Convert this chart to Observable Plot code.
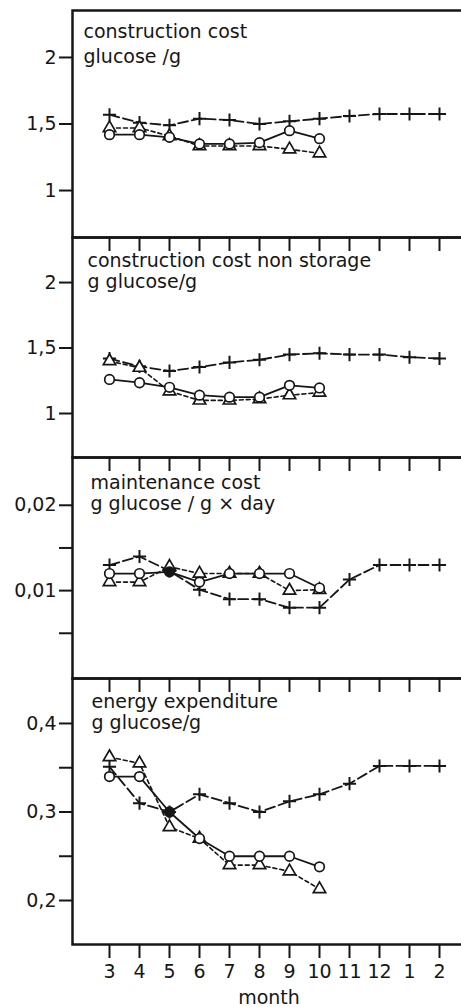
<!DOCTYPE html>
<html><head><meta charset="utf-8">
<script src="https://cdn.jsdelivr.net/npm/d3@7"></script>
<script src="https://cdn.jsdelivr.net/npm/@observablehq/plot@0.6"></script>
<style>
html,body{margin:0;padding:0;background:#fff;}
#chart{position:relative;width:461px;height:1007px;overflow:hidden;background:#fff;}
#chart svg{position:absolute;left:0;background:transparent !important;overflow:visible;}
</style></head><body><div id="chart"></div>
<script>
const months = ["3","4","5","6","7","8","9","10","11","12","1","2"];

// Panel 1: construction cost
const ccPlus     = [1.57, 1.51, 1.49, 1.54, 1.53, 1.50, 1.52, 1.54, 1.56, 1.575, 1.575, 1.575];
const ccCircle   = [1.42, 1.42, 1.40, 1.35, 1.35, 1.36, 1.45, 1.39];
const ccTriangle = [1.47, 1.47, 1.41, 1.335, 1.335, 1.335, 1.31, 1.28];

// Panel 2: construction cost non storage
const nsPlus     = [1.42, 1.36, 1.325, 1.355, 1.39, 1.41, 1.45, 1.46, 1.45, 1.45, 1.43, 1.42];
const nsCircle   = [1.26, 1.235, 1.20, 1.14, 1.125, 1.125, 1.215, 1.195];
const nsTriangle = [1.40, 1.35, 1.17, 1.10, 1.10, 1.11, 1.14, 1.16];

// Panel 3: maintenance cost
const mcPlus     = [0.013, 0.014, 0.0123, 0.0101, 0.009, 0.009, 0.008, 0.008, 0.0113, 0.013, 0.013, 0.013];
const mcCircle   = [0.012, 0.012, 0.0122, 0.011, 0.012, 0.012, 0.012, 0.0103];
const mcTriangle = [0.011, 0.011, 0.0128, 0.012, 0.012, 0.012, 0.010, 0.0101];

// Panel 4: energy expenditure
const eePlus     = [0.351, 0.31, 0.30, 0.32, 0.31, 0.30, 0.312, 0.32, 0.332, 0.352, 0.352, 0.352];
const eeCircle   = [0.34, 0.34, 0.30, 0.27, 0.25, 0.25, 0.25, 0.238];
const eeTriangle = [0.362, 0.355, 0.283, 0.27, 0.24, 0.24, 0.233, 0.213];

const titles = [
  "construction cost\nglucose /g",
  "construction cost non storage\ng glucose/g",
  "maintenance cost\ng glucose / g × day",
  "energy expenditure\ng glucose/g"
];
const yTicks1 = [1, 1.5, 2],   yLabels1 = ["1", "1,5", "2"];
const yTicks2 = [1, 1.5, 2],   yLabels2 = ["1", "1,5", "2"];
const yTicks3 = [0.005, 0.01, 0.015, 0.02], yLabels3 = ["", "0,01", "", "0,02"];
const yTicks4 = [0.2, 0.25, 0.3, 0.35, 0.4], yLabels4 = ["0,2", "", "0,3", "", "0,4"];
const xLabel = "month";

const FONT = '"DejaVu Sans", "Liberation Sans", sans-serif';
const INK = "#161616";

const panels = [
  {title: titles[0], plus: ccPlus, circle: ccCircle, triangle: ccTriangle, ticks: yTicks1, labels: yLabels1,
   top: 10, bottom: 237, domain: [0.647, 2.353], tdx: 11, tdy: 10, lh: 1.3},
  {title: titles[1], plus: nsPlus, circle: nsCircle, triangle: nsTriangle, ticks: yTicks2, labels: yLabels2,
   top: 237, bottom: 457, domain: [0.664, 2.344], tdx: 15, tdy: 14, lh: 1.12},
  {title: titles[2], plus: mcPlus, circle: mcCircle, triangle: mcTriangle, ticks: yTicks3, labels: yLabels3,
   top: 457, bottom: 678, domain: [-0.0003, 0.0256], tdx: 18, tdy: 16, lh: 1.12},
  {title: titles[3], plus: eePlus, circle: eeCircle, triangle: eeTriangle, ticks: yTicks4, labels: yLabels4,
   top: 678, bottom: 944, domain: [0.1503, 0.4508], tdx: 19, tdy: 14, lh: 1.12}
];

const container = document.getElementById("chart");

panels.forEach((p, i) => {
  const isLast = i === panels.length - 1;
  const toRows = arr => arr.map((v, k) => ({month: months[k], value: v}));
  const plusRows = toRows(p.plus), circleRows = toRows(p.circle), triRows = toRows(p.triangle);
  const h = p.bottom - p.top;
  const height = isLast ? 1007 - p.top : h;
  const marginBottom = height - h;
  const svg = Plot.plot({
    width: 461, height,
    marginTop: 0, marginBottom, marginLeft: 72, marginRight: -4,
    style: {fontFamily: FONT, fontSize: "19px", color: INK, background: "transparent", overflow: "visible"},
    x: {type: "point", domain: months, range: [105, 442], padding: 0},
    y: {domain: p.domain},
    marks: [
      Plot.axisY({ticks: p.ticks, tickFormat: d => p.labels[p.ticks.indexOf(d)], tickSize: 13, tickPadding: 3,
                  strokeWidth: 2, fontSize: 19, label: null}),
      Plot.axisX({tickSize: 14, tickPadding: 6, strokeWidth: 2, fontSize: 19,
                  tickFormat: isLast ? (d => d) : (() => ""),
                  label: isLast ? xLabel : null, labelAnchor: "center", labelOffset: 59}),
      Plot.line(plusRows, {x: "month", y: "value", stroke: INK, strokeWidth: 1.8, strokeDasharray: "10,4"}),
      Plot.line(triRows, {x: "month", y: "value", stroke: INK, strokeWidth: 1.6, strokeDasharray: "4,3"}),
      Plot.line(circleRows, {x: "month", y: "value", stroke: INK, strokeWidth: 1.8}),
      Plot.dot(plusRows, {x: "month", y: "value", symbol: "plus", r: 4.3, stroke: INK, strokeWidth: 2}),
      Plot.dot(triRows, {x: "month", y: "value", symbol: "triangle", r: 4.6, stroke: INK, fill: "white", strokeWidth: 1.7}),
      Plot.dot(circleRows, {x: "month", y: "value", symbol: "circle", r: 4.8, stroke: INK, strokeWidth: 1.7,
                            fill: d => (i >= 2 && d.month === "5") ? INK : "white"}),
      Plot.text([p.title], {text: d => d, frameAnchor: "top-left", textAnchor: "start", lineAnchor: "top",
                            dx: p.tdx, dy: p.tdy, fontSize: 19, lineHeight: p.lh, fill: INK}),
      Plot.frame({stroke: INK, strokeWidth: 2.5})
    ]
  });
  svg.style.top = p.top + "px";
  container.appendChild(svg);
});
</script></body></html>
